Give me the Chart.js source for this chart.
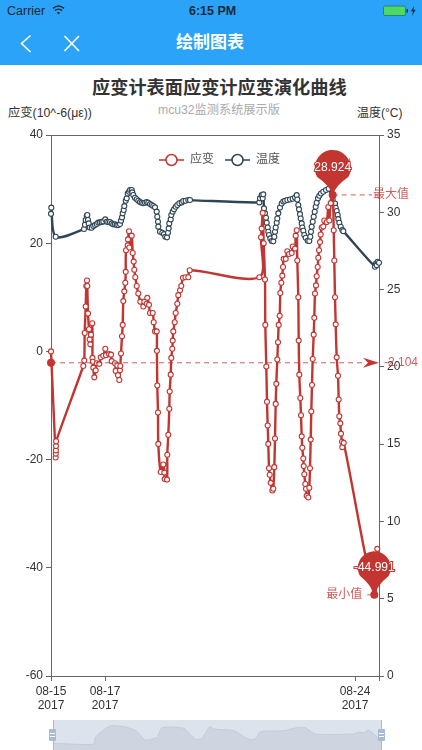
<!DOCTYPE html>
<html>
<head>
<meta charset="utf-8">
<title>绘制图表</title>
<script src="https://cdn.jsdelivr.net/npm/chart.js@4"></script>
<style>
    html, body { margin: 0; padding: 0; background: #fff; }
    body { width: 422px; height: 750px; position: relative; overflow: hidden;
           font-family: "Liberation Sans", "Noto Sans CJK SC", sans-serif; color: #333; }
    .abs { position: absolute; white-space: nowrap; line-height: 1; }
    #header { position: absolute; left: 0; top: 0; width: 422px; height: 65px; background: #2aa3f8; }
    #main-chart { position: absolute; left: 0; top: 0; }
    #overview-chart { position: absolute; left: 53px; top: 720px; }
    .handle { position: absolute; top: 729px; width: 7px; height: 12px; background: #a9bad3; border-radius: 1px; }
    .handle::before, .handle::after { content: ''; position: absolute; left: 1px; right: 1px; height: 1px; background: #fff; }
    .handle::before { top: 4px; } .handle::after { top: 7px; }
    .handle-line { position: absolute; top: 720px; width: 1px; height: 30px; background: #a9bad3; }
</style>
</head>
<body>
<div id="header"></div>
<div class="abs" style="left:7px;top:5px;font-size:12.5px;color:#1c2a38">Carrier</div>
<svg class="abs" style="left:52px;top:5px" width="13" height="10" viewBox="0 0 13 10" fill="none" stroke="#1c2a38" stroke-width="1.5">
    <path d="M1 3.4 C4.4 .4 8.6 .4 12 3.4"/><path d="M3 5.6 C5 3.8 8 3.8 10 5.6"/><path d="M6.5 9.6 L4.8 7.6 C5.8 6.9 7.2 6.9 8.2 7.6 Z" fill="#1c2a38" stroke="none"/>
</svg>
<div class="abs" style="left:189px;top:5px;font-size:12.5px;font-weight:bold;color:#1c2a38">6:15 PM</div>
<svg class="abs" style="left:382px;top:5px" width="35" height="12" viewBox="0 0 35 12">
    <rect x="1.5" y="1" width="22" height="9.5" rx="1.5" fill="#4cd964" stroke="#2f7f7a" stroke-width="1"/>
    <rect x="24.5" y="4" width="1.5" height="3.5" fill="#1c2a38"/>
    <path d="M32 1 L29 6.4 H31 L30 11 L33.6 4.8 H31.4 Z" fill="#1c2a38"/>
</svg>
<svg class="abs" style="left:20px;top:34px" width="62" height="20" viewBox="0 0 62 20" fill="none" stroke="#fff" stroke-width="1.6">
    <path d="M10.5 1.5 L1.5 9.5 L10.5 18"/><path d="M44.5 2 L59 17"/><path d="M59 2 L44.5 17"/>
</svg>
<div class="abs" style="left:176px;top:34px;font-size:17px;font-weight:bold;color:#fff">绘制图表</div>

<div class="abs" style="left:92px;top:79px;font-size:18.2px;font-weight:bold;color:#333">应变计表面应变计应变演化曲线</div>
<div class="abs" style="left:158px;top:104px;font-size:12.2px;color:#aaa">mcu32监测系统展示版</div>
<div class="abs" style="left:8px;top:107px;font-size:12.3px;color:#333">应变(10^-6(με))</div>
<div class="abs" style="left:357px;top:107px;font-size:12px;color:#333">温度(°C)</div>

<canvas id="main-chart" width="422" height="750"></canvas>
<canvas id="overview-chart" width="329" height="30"></canvas>
<div class="handle-line" style="left:53px"></div>
<div class="handle-line" style="left:381px"></div>
<div class="handle" style="left:49px"></div>
<div class="handle" style="left:378px"></div>

<script>
// --- Data ---
const seriesNames = ['应变', '温度'];

// time position along the x axis, one step per sampled slot
const strainT = [0, 4.7, 4.8, 4.9, 5, 5.1, 32.3, 33.3, 33.7, 34.7, 35.3, 36, 36.3, 37, 38, 38.7, 39.3, 40, 41.3, 41.5, 41.8, 42.3, 43.3, 44.7, 45.7, 48.3, 49.7, 52.3, 54.3, 55, 58, 60, 60.7, 64, 64.7, 66.3, 67, 68.3, 69, 69.3, 70, 71, 71.7, 72.3, 73.3, 74.3, 74.7, 75, 76.7, 77, 78, 78.3, 80.7, 81.7, 82.7, 83.3, 84.3, 85.7, 87.3, 89.3, 92.3, 93.3, 95.7, 96.3, 98, 99, 101.7, 102.7, 104, 105.7, 105.9, 106.3, 107, 107.3, 109.7, 112.3, 113.3, 113.7, 116, 116.3, 117.3, 118.3, 118.7, 119.7, 120.3, 121.3, 121.7, 122.3, 123.7, 124.7, 126.3, 127.3, 129, 130.3, 132, 134.5, 137.3, 138.7, 208.3, 210, 210.7, 211.7, 212.7, 214, 214.3, 215.3, 216, 216.7, 217.3, 218, 218.7, 219.7, 221.3, 222.3, 223.3, 224, 224.7, 225.3, 226.3, 227, 227.7, 228.7, 229.3, 230.3, 231.3, 232, 232.7, 234.7, 236.3, 238, 240.7, 241.7, 244, 244.7, 245.7, 246.3, 247.3, 247.7, 248.3, 249.3, 250, 250.7, 251.3, 252.3, 252.7, 253.3, 254.3, 255, 255.7, 257.3, 258.3, 259, 259.7, 260.3, 261, 261.7, 262.7, 263.3, 264, 265, 265.7, 266.7, 267.3, 268, 269, 269.7, 270.7, 272.3, 273.3, 275.7, 277.3, 278.3, 279.7, 281.7, 282.7, 283.3, 284, 284.7, 285.7, 287, 287.7, 288.3, 289.3, 290, 291, 291.3, 292.7, 323.3, 326.3];
const strainV = [0, -19.6, -18.9, -18.3, -17.5, -16.6, -2.7, -1.7, 3.4, 8.3, 12.1, 13.1, 12.1, 7, 4.1, 2.2, 1.3, 3.1, 5.2, -1.2, -1.9, -3, -4.8, -3.5, -2.2, -2.3, -1.1, -0.8, 0.5, -0.7, -0.5, -0.6, -1.8, -2.2, -3.6, -2.6, -4.4, -5.3, -3.5, -2.7, -0.4, 2.8, 4.9, 9.3, 11.1, 12.7, 14.7, 18.7, 19.6, 20.7, 22.2, 19.2, 21.4, 18.2, 16.6, 15.1, 13.7, 12.1, 10.7, 9.2, 8.3, 9.2, 8.8, 9.9, 8.6, 7.1, 7.1, 5.4, 3.7, 3.7, 0.1, -6.3, -11.3, -17.1, -22.3, -20.9, -22.4, -23.6, -23.7, -19.1, -15.4, -10.6, -7.4, -4.3, -1.2, 0.5, 2, 3.7, 5.4, 7.1, 8.8, 10.4, 11.3, 12.1, 13.6, 13.7, 13.7, 15, 13.7, 21.1, 22.7, 25.6, 20, 13.3, 4.9, -2.8, -9.3, -13.7, -17.1, -21.6, -22.8, -24.3, -25.7, -25.4, -21.4, -16.1, -9.7, -6, -1.5, 1.7, 4.9, 6.6, 10.8, 12.7, 14, 15.6, 17.1, 17.1, 18.5, 18, 18.2, 19.4, 19, 21.4, 22.4, 16.8, 10, 2, -4.3, -8.6, -11.8, -15.7, -17.8, -19.8, -21.2, -22.7, -24.5, -25.4, -26.7, -27, -25.2, -21.6, -16.3, -11.1, -6.2, -1.4, 3.1, 6.2, 10.7, 12.2, 13.9, 15.6, 17.3, 18.7, 20.2, 21.6, 22.9, 23.1, 24.2, 23.9, 26.7, 24.2, 27.4, 28.924, 22.4, 16.8, 10, 5, -1.1, -4.5, -8.9, -12, -13.3, -15.2, -16.7, -17.7, -16.9, -44.991, -36.5];

const tempT = [0, 0.3, 4.7, 33, 34, 34.7, 35.7, 36.3, 37, 37.7, 38.7, 40.7, 42.3, 44, 45.7, 47.3, 49, 50.7, 52.3, 54.3, 55.7, 57.3, 59, 60.7, 62.3, 64, 65.7, 67.3, 69, 70, 71, 71.7, 72.7, 73.3, 74.7, 75.7, 76.7, 78, 79, 80.7, 81.3, 82.3, 84, 85.7, 87.3, 89, 90.7, 92.3, 94, 95.7, 97.3, 99, 100.7, 102.3, 104, 105.7, 106.3, 107, 107.3, 109, 111.3, 113, 114.3, 116, 117, 117.7, 118.3, 119.7, 120.3, 121.7, 123, 124.7, 126.3, 128.3, 130.7, 132.3, 134.7, 137.3, 139, 208.3, 209, 210.7, 211.7, 212.3, 213, 214, 215, 215.7, 216.7, 217.3, 218, 219.3, 220.7, 222.3, 223.3, 224, 224.7, 225.7, 226.3, 227.3, 229, 230.7, 232.3, 234, 236.3, 239, 241.7, 244, 245.7, 246.3, 247.3, 248, 249, 249.7, 250.7, 251.3, 252.3, 253.3, 254.7, 256.7, 258.3, 259.3, 260, 260.7, 261.7, 262.7, 263.7, 264.7, 265.7, 267, 268.3, 270, 272.3, 275, 277.7, 281.7, 284, 284.7, 285.7, 286.7, 287.3, 288.3, 289.7, 291.3, 292.3, 324, 325, 325.7, 326.7, 328];
const tempV = [29.9, 30.3, 28.42, 28.92, 29.2, 29.5, 29.76, 29.82, 29.5, 29.28, 29.02, 29, 29.11, 29.17, 29.24, 29.33, 29.35, 29.37, 29.41, 29.54, 29.39, 29.37, 29.37, 29.28, 29.22, 29.22, 29.17, 29.17, 29.24, 29.46, 29.67, 29.93, 30.15, 30.4, 30.75, 30.9, 31.22, 31.33, 31.44, 31.44, 31.29, 31.12, 30.94, 30.84, 30.75, 30.66, 30.62, 30.58, 30.62, 30.66, 30.62, 30.53, 30.47, 30.41, 30.32, 30.04, 29.71, 29.39, 29.07, 28.74, 28.68, 28.59, 28.42, 28.38, 28.68, 28.96, 29.28, 29.54, 29.82, 30.04, 30.19, 30.36, 30.47, 30.58, 30.64, 30.73, 30.75, 30.79, 30.79, 30.64, 30.9, 31.11, 30.9, 31.16, 30.25, 29.93, 29.65, 29.32, 29.02, 28.74, 28.53, 28.31, 28.14, 28.12, 28.42, 28.74, 29.02, 29.32, 29.6, 29.93, 30.31, 30.57, 30.7, 30.75, 30.79, 30.83, 30.88, 30.96, 31.11, 30.83, 30.47, 30.19, 29.88, 29.6, 29.28, 29.02, 28.81, 28.53, 28.35, 28.16, 28.14, 28.42, 28.74, 29.06, 29.39, 29.71, 30.03, 30.36, 30.62, 30.9, 31.07, 31.22, 31.33, 31.44, 31.52, 30.79, 30.57, 30.29, 30.08, 29.82, 29.56, 29.32, 29.06, 28.85, 28.78, 26.48, 26.69, 26.58, 26.8, 26.74];

const xTickValues = [0, 54, 304, 328];
const xTickLabels = [['08-15', '2017'], ['08-17', '2017'], ['08-24', '2017'], ''];

const strainTicks = [-60, -40, -20, 0, 20, 40];
const tempTicks = [0, 5, 10, 15, 20, 25, 30, 35];

const strainMax = 28.924;
const strainMin = -44.991;
const strainAvg = -2.104;
const maxLabel = '最大值';
const minLabel = '最小值';

// dataZoom preview along the bottom
const overviewT = [0, 40.7, 42.3, 57.3, 74, 84, 92.3, 104, 109, 130.7, 142.3, 149, 156.7, 160.7, 180.7, 195.7, 202.3, 207.3, 230.7, 244, 252.3, 262.3, 300.7, 305.7, 310.7, 315.7, 325.7, 329];
const overviewV = [6.7, 5.7, 12.7, 24, 22.7, 18.3, 10, 12.7, 22.3, 21.7, 10.7, 11.7, 23.3, 21, 19.3, 10.7, 11, 18.3, 19.3, 22.3, 22.3, 16, 16, 18, 17.3, 20, 11.7, 10.7];

// --- Styles ---
const RED = '#c23531';
const NAVY = '#2f4554';
const AXIS = '#666';
const MARK_FONT = '12px "Liberation Sans", "Noto Sans CJK SC", sans-serif';

// --- Helpers ---
function toPoints(xs, ys) {
    return xs.map((x, i) => ({ x: x, y: ys[i] }));
}

function dashed(ctx, x1, y1, x2, y2) {
    ctx.save();
    ctx.strokeStyle = RED;
    ctx.globalAlpha = 0.8;
    ctx.lineWidth = 1;
    ctx.setLineDash([5, 4]);
    ctx.beginPath();
    ctx.moveTo(x1, y1);
    ctx.lineTo(x2, y2);
    ctx.stroke();
    ctx.restore();
}

function dot(ctx, x, y, r) {
    ctx.fillStyle = RED;
    ctx.beginPath();
    ctx.arc(x, y, r, 0, Math.PI * 2);
    ctx.fill();
}

function pin(ctx, x, tipY, r, dist, text) {
    const cy = tipY - dist;
    ctx.fillStyle = RED;
    ctx.beginPath();
    ctx.moveTo(x, tipY);
    ctx.quadraticCurveTo(x - 3, tipY - dist * 0.35, x - r * 0.86, cy + r * 0.5);
    ctx.arc(x, cy, r, Math.PI * 5 / 6, Math.PI / 6);
    ctx.quadraticCurveTo(x + 3, tipY - dist * 0.35, x, tipY);
    ctx.fill();

    ctx.font = MARK_FONT;
    ctx.textAlign = 'center';
    ctx.textBaseline = 'middle';
    ctx.lineWidth = 2;
    ctx.strokeStyle = RED;
    ctx.strokeText(text, x, cy);
    ctx.fillStyle = '#fff';
    ctx.fillText(text, x, cy);
}

// --- Plugins ---
const frameLine = {
    id: 'frameLine',
    beforeDatasetsDraw(chart) {
        const { ctx, chartArea: a } = chart;
        ctx.save();
        ctx.strokeStyle = AXIS;
        ctx.lineWidth = 1;
        ctx.beginPath();
        ctx.moveTo(a.left, a.top + 0.5);
        ctx.lineTo(a.right, a.top + 0.5);
        ctx.stroke();
        ctx.restore();
    }
};

const strainMarks = {
    id: 'strainMarks',
    afterDatasetsDraw(chart) {
        const { ctx, chartArea: a, scales } = chart;
        const x = scales.x, y = scales.yStrain;
        ctx.save();

        // average line
        const avgY = y.getPixelForValue(strainAvg);
        dashed(ctx, a.left, avgY, a.right - 14, avgY);
        dot(ctx, a.left, avgY, 4);
        ctx.fillStyle = RED;
        ctx.beginPath();
        ctx.moveTo(a.right, avgY);
        ctx.lineTo(a.right - 16, avgY - 5);
        ctx.lineTo(a.right - 11, avgY);
        ctx.lineTo(a.right - 16, avgY + 5);
        ctx.closePath();
        ctx.fill();
        ctx.font = MARK_FONT;
        ctx.textAlign = 'left';
        ctx.textBaseline = 'middle';
        ctx.globalAlpha = 0.8;
        ctx.fillText(String(strainAvg), a.right + 5, avgY);
        ctx.globalAlpha = 1;

        // maximum
        const maxX = x.getPixelForValue(strainT[strainV.indexOf(strainMax)]);
        const maxY = y.getPixelForValue(strainMax);
        dashed(ctx, maxX, maxY, a.right - 7, maxY);
        dot(ctx, maxX, maxY, 4);
        ctx.fillStyle = RED;
        ctx.globalAlpha = 0.8;
        ctx.font = MARK_FONT;
        ctx.textAlign = 'left';
        ctx.textBaseline = 'middle';
        ctx.fillText(maxLabel, a.right - 6, maxY);
        ctx.globalAlpha = 1;
        pin(ctx, maxX, maxY, 18, 27, String(strainMax));

        // minimum
        const minX = x.getPixelForValue(strainT[strainV.indexOf(strainMin)]);
        const minY = y.getPixelForValue(strainMin);
        dashed(ctx, minX - 2, minY, minX - 8, minY);
        dot(ctx, minX, minY, 4);
        ctx.fillStyle = RED;
        ctx.globalAlpha = 0.8;
        ctx.font = MARK_FONT;
        ctx.textAlign = 'right';
        ctx.textBaseline = 'middle';
        ctx.fillText(minLabel, minX - 12, minY);
        ctx.globalAlpha = 1;
        pin(ctx, minX, minY, 16.5, 27, String(strainMin));

        ctx.restore();
    }
};

const topLegend = {
    id: 'topLegend',
    afterDraw(chart) {
        const { ctx } = chart;
        const colors = [RED, NAVY];
        const y = 160;
        ctx.save();
        seriesNames.forEach((name, i) => {
            const left = 159 + i * 66;
            ctx.strokeStyle = colors[i];
            ctx.lineWidth = 1.5;
            ctx.beginPath();
            ctx.moveTo(left, y);
            ctx.lineTo(left + 25, y);
            ctx.stroke();
            ctx.fillStyle = '#fff';
            ctx.beginPath();
            ctx.arc(left + 12.5, y, 5.5, 0, Math.PI * 2);
            ctx.fill();
            ctx.stroke();
            ctx.fillStyle = '#555';
            ctx.font = MARK_FONT;
            ctx.textAlign = 'left';
            ctx.textBaseline = 'middle';
            ctx.fillText(name, left + 31, y);
        });
        ctx.restore();
    }
};

// --- Charts ---
Chart.defaults.font.family = '"Liberation Sans", "Noto Sans CJK SC", sans-serif';
Chart.defaults.font.size = 12;
Chart.defaults.color = '#333';
Chart.defaults.animation = false;

const lineStyle = (label, color, xs, ys) => ({
    label: label,
    data: toPoints(xs, ys),
    borderColor: color,
    backgroundColor: '#fff',
    borderWidth: 2.4,
    tension: 0.3,
    pointRadius: 2.5,
    pointBorderWidth: 1.1,
    pointBorderColor: color,
    pointBackgroundColor: '#fff',
    clip: false
});

new Chart(document.getElementById('main-chart'), {
    type: 'line',
    data: {
        datasets: [
            { ...lineStyle(seriesNames[0], RED, strainT, strainV), yAxisID: 'yStrain' },
            { ...lineStyle(seriesNames[1], NAVY, tempT, tempV), yAxisID: 'yTemp' }
        ]
    },
    plugins: [frameLine, strainMarks, topLegend],
    options: {
        responsive: false,
        layout: { padding: { top: 135 } },
        plugins: { legend: { display: false }, tooltip: { enabled: false } },
        scales: {
            x: {
                type: 'linear',
                min: 0,
                max: 328,
                afterBuildTicks(axis) { axis.ticks = xTickValues.map(v => ({ value: v })); },
                afterFit(axis) { axis.height = 74; },
                ticks: {
                    autoSkip: false,
                    maxRotation: 0,
                    padding: 3,
                    callback: (v) => xTickLabels[xTickValues.indexOf(v)]
                },
                border: { color: AXIS },
                grid: { drawOnChartArea: false, color: AXIS, tickLength: 5 }
            },
            yStrain: {
                position: 'left',
                min: -60,
                max: 40,
                afterBuildTicks(axis) { axis.ticks = strainTicks.map(v => ({ value: v })); },
                afterFit(axis) { axis.width = 51; },
                ticks: { padding: 3 },
                border: { color: AXIS },
                grid: { drawOnChartArea: false, color: AXIS, tickLength: 5 }
            },
            yTemp: {
                position: 'right',
                min: 0,
                max: 35,
                afterBuildTicks(axis) { axis.ticks = tempTicks.map(v => ({ value: v })); },
                afterFit(axis) { axis.width = 43; },
                ticks: { padding: 3 },
                border: { color: AXIS },
                grid: { drawOnChartArea: false, color: AXIS, tickLength: 5 }
            }
        }
    }
});

new Chart(document.getElementById('overview-chart'), {
    type: 'line',
    data: {
        datasets: [{
            data: toPoints(overviewT, overviewV),
            borderColor: '#c4ccd8',
            backgroundColor: '#ced5e0',
            borderWidth: 1,
            fill: 'origin',
            tension: 0.2,
            pointRadius: 0
        }]
    },
    options: {
        responsive: false,
        layout: { padding: 0 },
        plugins: { legend: { display: false }, tooltip: { enabled: false } },
        scales: {
            x: { type: 'linear', display: false, min: 0, max: 329 },
            y: { display: false, min: 0, max: 30 }
        }
    },
    plugins: [{
        id: 'overviewBackground',
        beforeDraw(chart) {
            chart.ctx.fillStyle = '#dde3ed';
            chart.ctx.fillRect(0, 0, chart.width, chart.height);
        }
    }]
});
</script>
</body>
</html>
